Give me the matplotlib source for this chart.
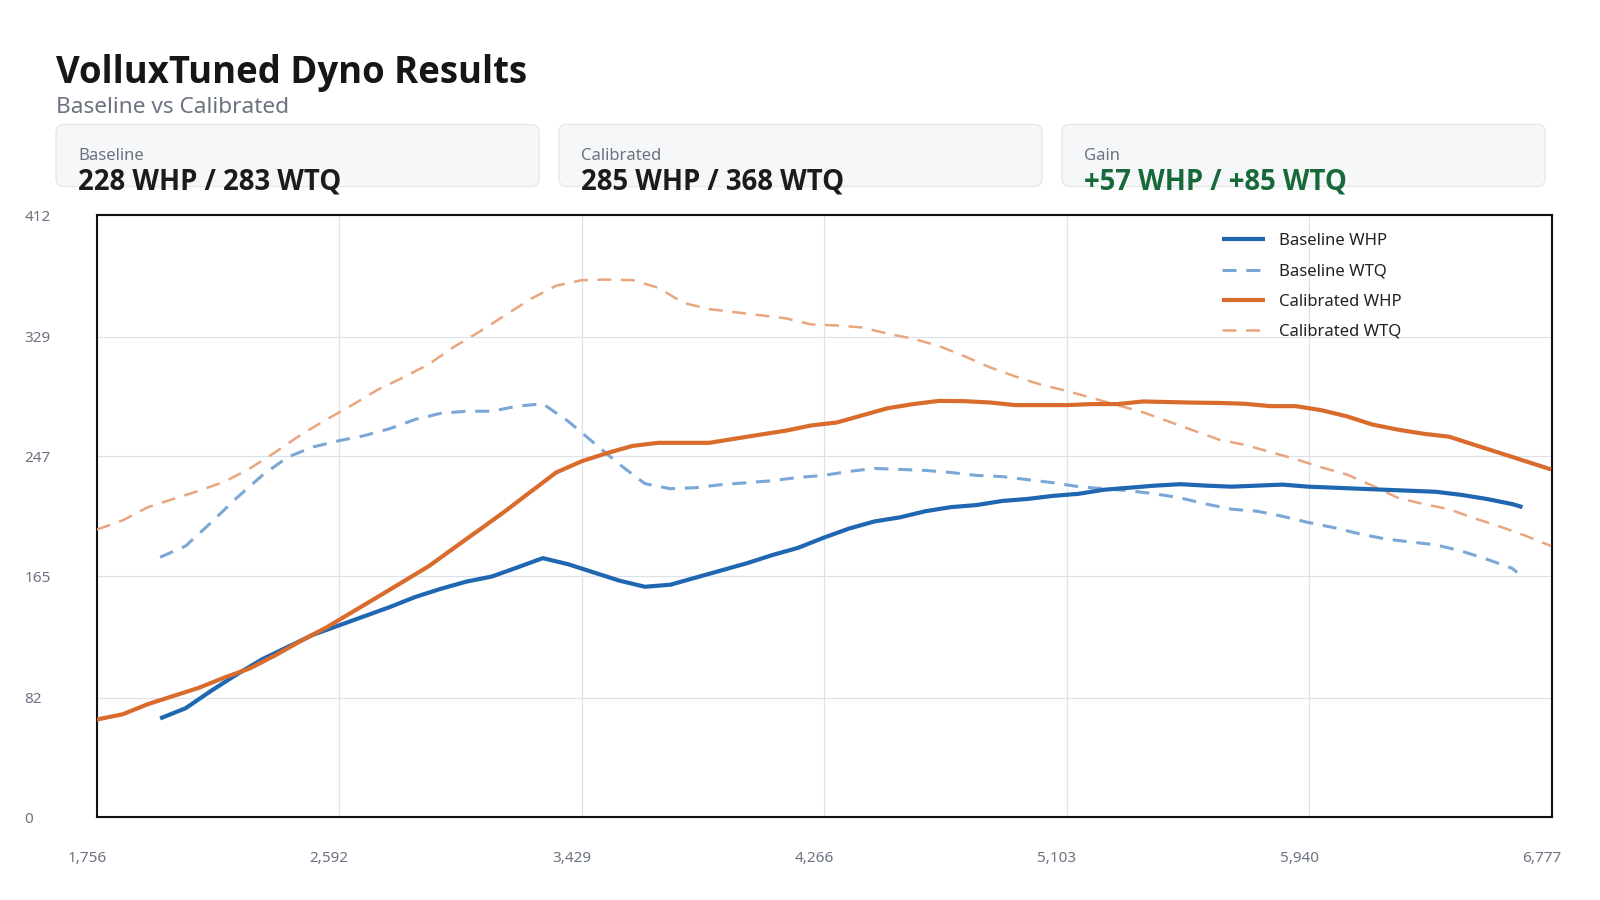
import numpy as np
import matplotlib
matplotlib.use("Agg")
from matplotlib import pyplot as plt
from matplotlib.patches import FancyBboxPatch
from matplotlib.ticker import FixedLocator, FuncFormatter
import matplotlib.transforms as mtransforms

plt.rcParams['font.family'] = ['Noto Sans', 'DejaVu Sans']
BOLD_FAMILY = ['Open Sans', 'Lato', 'DejaVu Sans']

# --- data (rpm vs wheel hp / wheel torque) ---
baseline_rpm = [1974 + 88.03 * k for k in range(54)] + [6675]
baseline_whp = [67.7, 74.7, 86.6, 97.8, 108.2, 116.6, 125.0, 131.3, 137.6, 143.9,
                150.8, 156.4, 161.3, 164.8, 171.0, 177.4, 173.2, 167.6, 162.0, 157.8,
                159.2, 164.1, 169.0, 173.9, 179.5, 184.4, 191.3, 197.6, 202.5, 205.3,
                209.5, 212.3, 213.7, 216.5, 217.9, 220.0, 221.4, 224.2, 225.6, 227.0,
                228.0, 227.0, 226.3, 227.0, 227.7, 226.3, 225.6, 224.9, 224.2, 223.5,
                222.8, 220.7, 217.9, 214.4, 212.3]

baseline_wtq_rpm = [1974 + 88.03 * k for k in range(54)] + [6657]
baseline_wtq = [178.0, 185.7, 201.8, 218.6, 234.0, 246.5, 253.5, 257.7, 261.2, 266.0,
                272.3, 276.5, 277.9, 277.9, 281.4, 283.0, 271.0, 256.3, 241.6, 228.4,
                224.9, 225.6, 227.7, 229.0, 230.4, 232.6, 234.0, 236.7, 238.8, 238.1,
                237.4, 236.0, 234.0, 233.2, 231.1, 229.0, 226.3, 224.9, 223.5, 221.4,
                218.6, 214.4, 210.9, 209.5, 206.0, 201.8, 198.3, 194.1, 190.6, 188.5,
                186.5, 182.3, 176.7, 170.4, 167.6]

calibrated_rpm = [1756 + 88.03 * k for k in range(58)]
calibrated_whp = [67.0, 70.5, 77.5, 83.1, 88.7, 95.7, 102.0, 111.0, 120.8, 130.0,
                  140.4, 150.8, 161.3, 171.8, 184.4, 196.9, 209.5, 222.8, 236.0, 243.7,
                  249.3, 254.2, 256.3, 256.3, 256.3, 259.1, 261.9, 264.6, 268.2, 270.2,
                  275.1, 280.0, 282.8, 285.0, 284.8, 283.9, 282.1, 282.1, 282.1, 282.8,
                  282.8, 284.6, 284.2, 283.8, 283.6, 283.0, 281.4, 281.4, 278.6, 274.4,
                  268.8, 265.3, 262.5, 260.5, 254.9, 249.3, 243.7, 238.1]
calibrated_wtq = [196.9, 203.2, 212.3, 217.9, 223.5, 229.7, 238.8, 250.0, 261.9, 272.3,
                  282.1, 292.6, 301.0, 310.0, 322.0, 332.4, 343.6, 354.7, 363.8, 367.6,
                  368.0, 367.6, 362.4, 352.0, 347.8, 345.7, 343.6, 341.5, 337.3, 336.6,
                  335.2, 331.0, 327.5, 322.6, 315.6, 308.0, 301.7, 296.1, 291.9, 287.0,
                  282.1, 277.2, 271.0, 264.6, 258.4, 254.9, 250.0, 245.1, 239.5, 234.6,
                  227.0, 218.6, 214.4, 210.9, 204.6, 199.0, 192.7, 185.7]

x_ticks = [1756, 2592, 3429, 4266, 5103, 5940, 6777]
y_ticks = [0, 82, 165, 247, 329, 412]

cards = [("Baseline", "228 WHP / 283 WTQ", "#1b1b1b"),
         ("Calibrated", "285 WHP / 368 WTQ", "#1b1b1b"),
         ("Gain", "+57 WHP / +85 WTQ", "#17693a")]

C_BASE = '#1f67b1'
C_BASE_L = '#7ba7d7'
C_CAL = '#d96c2c'
C_CAL_L = '#e9a67e'
GREY = '#6b7280'

fig = plt.figure(figsize=(16, 9), dpi=100)
fig.patch.set_facecolor('white')

# header drawn in pixel coordinates
hdr = fig.add_axes([0, 0, 1, 1], zorder=0)
hdr.set_xlim(0, 1600)
hdr.set_ylim(900, 0)
hdr.axis('off')

hdr.text(56, 83, "VolluxTuned Dyno Results", fontsize=26.3, fontweight='bold',
         family=BOLD_FAMILY, color='#161616', va='baseline', ha='left')
hdr.text(56, 113, "Baseline vs Calibrated", fontsize=16.3, color=GREY,
         va='baseline', ha='left')

card_x = [56, 559, 1062]
for (label, value, col), cx in zip(cards, card_x):
    box = FancyBboxPatch((cx, 124.5), 483, 62, boxstyle="round,pad=0,rounding_size=8",
                         facecolor='#f6f7f9', edgecolor='#e6e8ec', linewidth=1.0)
    hdr.add_patch(box)
    hdr.text(cx + 22, 160.5, label, fontsize=12, color=GREY, va='baseline', ha='left')
    hdr.text(cx + 22, 190, value, fontsize=19.8, fontweight='bold', family=BOLD_FAMILY,
             color=col, va='baseline', ha='left')

# main chart
ax = fig.add_axes([0.0606, 0.0918, 0.9094, 0.669], zorder=1)
ax.set_facecolor('white')

ax.plot(baseline_rpm, baseline_whp, color=C_BASE, lw=3.0, label='Baseline WHP',
        solid_capstyle='butt', zorder=4)
ax.plot(baseline_wtq_rpm, baseline_wtq, color=C_BASE_L, lw=2.2, dashes=(4.6, 3.2),
        label='Baseline WTQ', zorder=3)
ax.plot(calibrated_rpm, calibrated_whp, color=C_CAL, lw=3.0, label='Calibrated WHP',
        solid_capstyle='butt', zorder=4)
ax.plot(calibrated_rpm, calibrated_wtq, color=C_CAL_L, lw=1.8, dashes=(5.6, 3.8),
        label='Calibrated WTQ', zorder=3)

ax.set_xlim(x_ticks[0], x_ticks[-1])
ax.set_ylim(0, 412)
ax.xaxis.set_major_locator(FixedLocator(x_ticks))
ax.yaxis.set_major_locator(FixedLocator(y_ticks))
ax.xaxis.set_major_formatter(FuncFormatter(lambda v, p: f"{int(v):,}"))
ax.grid(True, color='#dde1e8', lw=0.9, zorder=0)
ax.set_axisbelow(True)

for s in ax.spines.values():
    s.set_color('#111111')
    s.set_linewidth(1.5)

ax.tick_params(axis='both', length=0, labelsize=11, labelcolor=GREY)
ax.tick_params(axis='x', pad=24)
ax.tick_params(axis='y', pad=52)
for lab in ax.get_yticklabels():
    lab.set_horizontalalignment('left')
shift = mtransforms.ScaledTranslation(-10 / 100, 0, fig.dpi_scale_trans)
for lab in ax.get_xticklabels():
    lab.set_transform(lab.get_transform() + shift)

leg = ax.legend(loc='upper left', bbox_to_anchor=(0.763, 0.995), frameon=False,
                fontsize=12, handlelength=2.6, handletextpad=0.8, labelspacing=0.85)
for t in leg.get_texts():
    t.set_color('#222222')

fig.savefig('out.png', dpi=100, facecolor='white')
